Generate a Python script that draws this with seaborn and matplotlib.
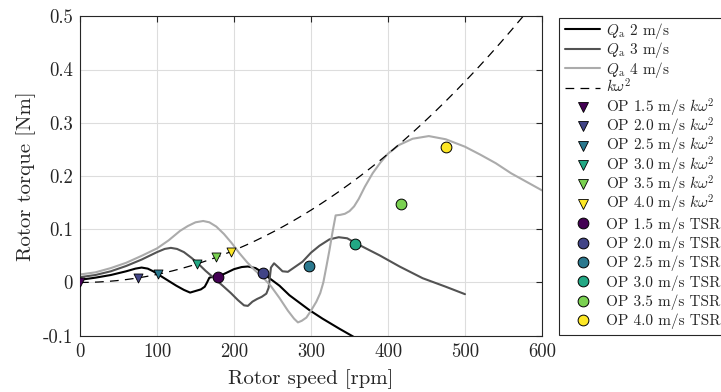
import numpy as np
import matplotlib
matplotlib.use("Agg")
import matplotlib.pyplot as plt
from matplotlib.lines import Line2D
from matplotlib.offsetbox import TextArea
from matplotlib.transforms import Bbox
import seaborn as sns

# Aerodynamic rotor torque Q_a versus rotor speed at three wind speeds
rpm_2ms = [0, 20, 40, 60, 72, 80, 88, 95, 105, 115, 125, 135, 143, 150, 157, 162,
           165, 168, 174, 181, 190, 200, 210, 218, 228, 238, 246, 259, 272, 285,
           298, 315, 337, 354, 370]
torque_2ms = [0.005, 0.009, 0.014, 0.021, 0.026, 0.028, 0.026, 0.021, 0.012, 0.003,
              -0.006, -0.014, -0.019, -0.016, -0.013, -0.008, 0.000, 0.009, 0.011,
              0.012, 0.018, 0.025, 0.029, 0.030, 0.027, 0.018, 0.008, -0.006, -0.024,
              -0.038, -0.052, -0.068, -0.087, -0.101, -0.116]

rpm_3ms = [0, 20, 40, 60, 80, 100, 110, 118, 126, 135, 145, 153, 163, 175, 186, 196,
           205, 213, 218, 224, 230, 236, 242, 245, 248, 252, 258, 263, 270, 280, 289,
           300, 311, 324, 336, 347, 358, 370, 389, 415, 445, 475, 500]
torque_3ms = [0.010, 0.014, 0.021, 0.031, 0.043, 0.057, 0.063, 0.065, 0.063, 0.057,
              0.046, 0.036, 0.022, 0.007, -0.007, -0.020, -0.033, -0.043, -0.044,
              -0.036, -0.031, -0.027, -0.021, -0.010, 0.028, 0.036, 0.028, 0.021, 0.020,
              0.030, 0.039, 0.056, 0.069, 0.081, 0.085, 0.083, 0.074, 0.065, 0.051,
              0.030, 0.008, -0.008, -0.022]

rpm_4ms = [0, 20, 40, 60, 80, 100, 115, 130, 140, 150, 160, 168, 177, 187, 197, 207,
           217, 227, 238, 248, 259, 270, 278, 283, 288, 294, 300, 307, 312, 316, 320,
           324, 328, 332, 338, 344, 350, 356, 362, 370, 380, 390, 400, 414, 432, 453,
           475, 500, 520, 540, 560, 580, 600]
torque_4ms = [0.015, 0.019, 0.027, 0.037, 0.050, 0.064, 0.079, 0.097, 0.106, 0.113,
              0.1155, 0.113, 0.105, 0.091, 0.074, 0.055, 0.038, 0.023, 0.009, -0.007,
              -0.029, -0.053, -0.068, -0.075, -0.072, -0.066, -0.053, -0.036, -0.020,
              0.000, 0.030, 0.061, 0.095, 0.126, 0.127, 0.129, 0.134, 0.143, 0.157,
              0.180, 0.205, 0.225, 0.242, 0.258, 0.270, 0.275, 0.269, 0.255, 0.240,
              0.224, 0.205, 0.189, 0.173]

# Quadratic control law T = k * omega^2 (omega in rpm)
K_GAIN = 1.51e-6
kw2_rpm = np.linspace(0, 600, 301)

# Operating points per wind speed
op_wind = ["1.5", "2.0", "2.5", "3.0", "3.5", "4.0"]
op_kw2_rpm = [0, 75, 101.5, 152, 177, 196]
op_kw2_torque = [0.0, 0.0085, 0.0155, 0.035, 0.047, 0.058]
op_tsr_rpm = [179, 238, 298, 357.5, 417.5, 475]
op_tsr_torque = [0.0094, 0.018, 0.031, 0.072, 0.147, 0.255]

x_ticks = [0, 100, 200, 300, 400, 500, 600]
x_tick_labels = ["0", "100", "200", "300", "400", "500", "600"]
y_ticks = [-0.1, 0.0, 0.1, 0.2, 0.3, 0.4, 0.5]
y_tick_labels = ["-0.1", "0", "0.1", "0.2", "0.3", "0.4", "0.5"]

sns.set_theme(style="whitegrid")
plt.rcParams.update({
    "font.family": ["cmr10", "DejaVu Serif"],
    "mathtext.fontset": "cm",
    "axes.unicode_minus": False,
    "axes.formatter.use_mathtext": True,
    "axes.edgecolor": "#262626",
    "axes.linewidth": 0.8,
    "grid.color": "#dddddd",
    "grid.linewidth": 0.8,
})

fig = plt.figure(figsize=(7.21, 3.92), dpi=100)
ax = fig.add_axes([80 / 721, 1 - 335.7 / 392, 462 / 721, 319.4 / 392])

LW = 1.5
line_kw = dict(ax=ax, estimator=None, sort=False, linewidth=LW, legend=False)
sns.lineplot(x=rpm_2ms, y=torque_2ms, color="black", **line_kw)
sns.lineplot(x=rpm_3ms, y=torque_3ms, color="#535353", **line_kw)
sns.lineplot(x=rpm_4ms, y=torque_4ms, color="#ababab", **line_kw)
sns.lineplot(x=kw2_rpm, y=K_GAIN * kw2_rpm ** 2, color="black", linewidth=0.9,
             linestyle=(0, (7, 5)), ax=ax, estimator=None, sort=False, legend=False)

colors = plt.get_cmap("viridis")(np.linspace(0, 1, len(op_wind)))
TRI_S, CIRC_S = 42, 60
for i in range(len(op_wind)):
    sns.scatterplot(x=[op_kw2_rpm[i]], y=[op_kw2_torque[i]], marker="v", s=TRI_S,
                    color=colors[i], edgecolor="black", linewidth=0.6, zorder=4,
                    legend=False, ax=ax)
for i in range(len(op_wind)):
    sns.scatterplot(x=[op_tsr_rpm[i]], y=[op_tsr_torque[i]], marker="o", s=CIRC_S,
                    color=colors[i], edgecolor="black", linewidth=0.7, zorder=4,
                    legend=False, ax=ax)

ax.set_xlim(0, 600)
ax.set_ylim(-0.1, 0.5)
ax.set_xticks(x_ticks, x_tick_labels)
ax.set_yticks(y_ticks, y_tick_labels)
ax.tick_params(direction="in", length=4, width=0.8, top=True, right=True,
               labelsize=13.5, color="#262626", labelcolor="#262626", pad=5)
ax.set_xlabel("Rotor speed [rpm]", fontsize=15, color="#262626", labelpad=6)
ax.set_ylabel("Rotor torque [Nm]", fontsize=15, color="#262626", labelpad=5)
for sp in ax.spines.values():
    sp.set_visible(True)
    sp.set_color("#262626")
    sp.set_linewidth(0.8)

# Legend entries
handles = [
    Line2D([], [], color="black", lw=LW),
    Line2D([], [], color="#535353", lw=LW),
    Line2D([], [], color="#ababab", lw=LW),
    Line2D([], [], color="black", lw=0.9, linestyle=(0, (7, 5))),
]
labels = [r"$Q_\mathrm{a}$ 2 m/s", r"$Q_\mathrm{a}$ 3 m/s", r"$Q_\mathrm{a}$ 4 m/s",
          r"$k\omega^2$"]
for i, w in enumerate(op_wind):
    handles.append(Line2D([], [], ls="", marker="v", markersize=np.sqrt(TRI_S),
                          markerfacecolor=colors[i], markeredgecolor="black",
                          markeredgewidth=0.6))
    labels.append(f"OP {w} m/s " + r"$k\omega^2$")
for i, w in enumerate(op_wind):
    handles.append(Line2D([], [], ls="", marker="o", markersize=np.sqrt(CIRC_S),
                          markerfacecolor=colors[i], markeredgecolor="black",
                          markeredgewidth=0.7))
    labels.append(f"OP {w} m/s TSR")

leg = ax.legend(handles, labels, loc="upper left",
                bbox_to_anchor=(559 / 721, 1 - 18 / 392), bbox_transform=fig.transFigure,
                borderaxespad=0, fontsize=11, frameon=True, fancybox=False,
                framealpha=1, edgecolor="#262626", handlelength=2.3,
                handletextpad=0.4, labelspacing=0.37, borderpad=0.4)
leg.get_frame().set_linewidth(0.8)


# Give every legend row the height of a plain text line, so that rows with
# superscripts are spaced like the others.
def _plain_row_height(area):
    original = area.get_bbox

    def get_bbox(renderer):
        bb = original(renderer)
        _, h, d = renderer.get_text_width_height_descent(
            "lp", area._text.get_fontproperties(), ismath=False)
        return Bbox.from_bounds(bb.x0, -d, bb.width, h)

    area.get_bbox = get_bbox


for area in leg.findobj(match=TextArea):
    _plain_row_height(area)

fig.savefig("out.png", dpi=100)
